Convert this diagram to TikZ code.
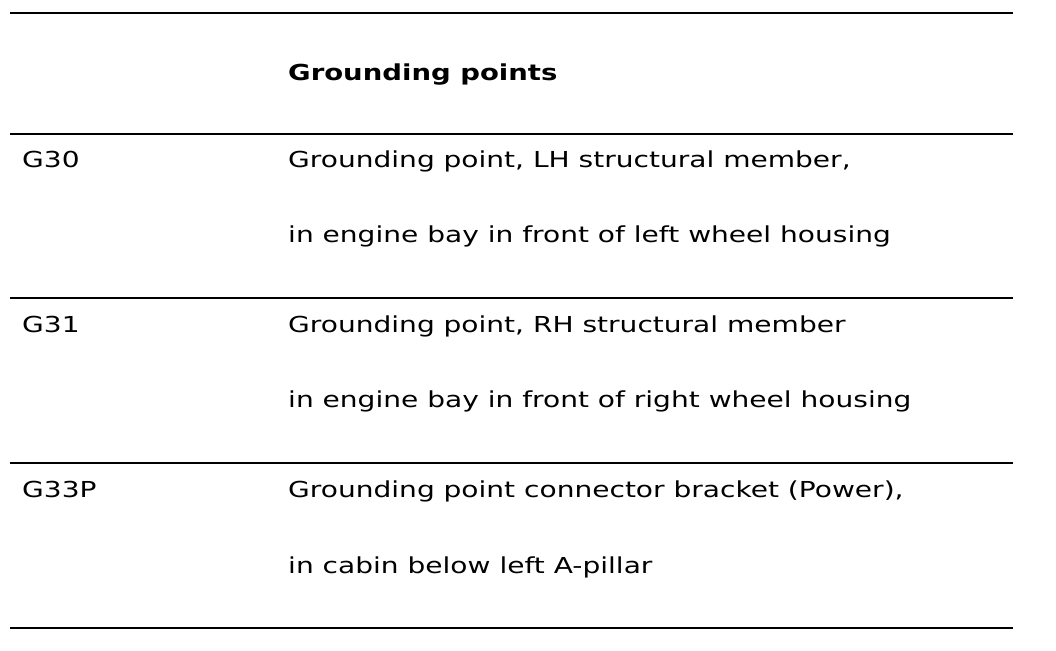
\documentclass[tikz,border=0pt]{standalone}
\usepackage{fontspec}
\setmainfont{DejaVu Sans}[FakeStretch=1.275,BoldFeatures={FakeStretch=1.25}]
\usetikzlibrary{positioning}
\tikzset{
  cell/.style={anchor=base west,inner sep=0pt,font=\fontsize{22}{26}\selectfont},
  rule/.style={line width=2.4pt}
}
\begin{document}
\begin{tikzpicture}[x=1pt,y=1pt]
\useasboundingbox (0,0) rectangle (1056,650);
% Rules
\foreach \ry in {637,516,352,187,22}
  \draw[rule] (10,\ry) -- (1013,\ry);
% Header
\node[cell,font=\fontsize{22}{26}\selectfont\bfseries] (hdr) at (288,569) {Grounding points};
% G30
\node[cell] (g30_id) at (22,482) {G30};
\node[cell] (g30_a) at (288,482) {Grounding point, LH structural member,};
\node[cell] (g30_b) at (288,407) {in engine bay in front of left wheel housing};
% G31
\node[cell] (g31_id) at (22,317) {G31};
\node[cell] (g31_a) at (288,317) {Grounding point, RH structural member};
\node[cell] (g31_b) at (288,242) {in engine bay in front of right wheel housing};
% G33P
\node[cell] (g33_id) at (22,152) {G33P};
\node[cell] (g33_a) at (288,152) {Grounding point connector bracket (Power),};
\node[cell] (g33_b) at (288,77) {in cabin below left A-pillar};
\end{tikzpicture}
\end{document}
